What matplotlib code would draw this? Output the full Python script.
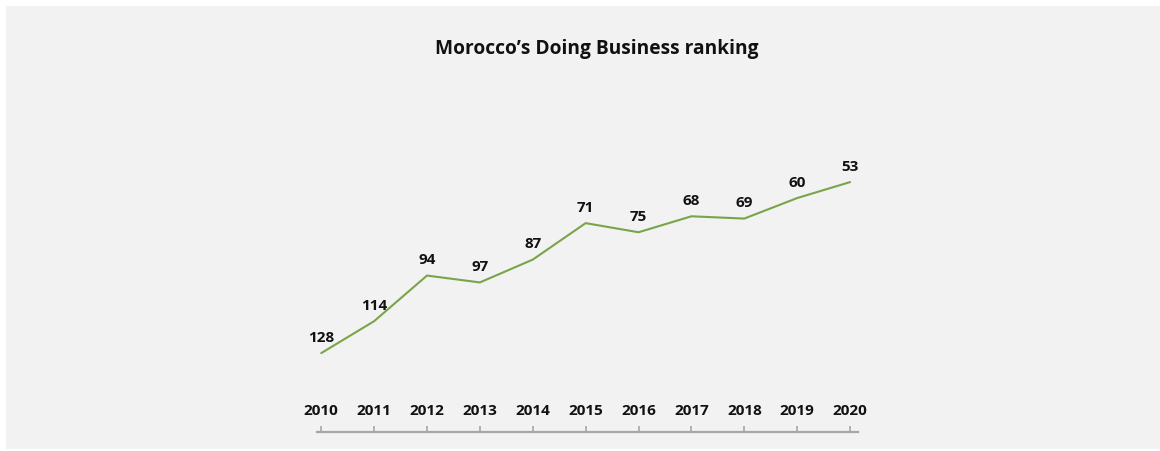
import matplotlib
matplotlib.use("Agg")
import matplotlib.pyplot as plt
from matplotlib.patches import Rectangle
import matplotlib.transforms as mtransforms

# Morocco's Doing Business ranking, 2010-2020
years = [2010, 2011, 2012, 2013, 2014, 2015, 2016, 2017, 2018, 2019, 2020]
ranking = [128, 114, 94, 97, 87, 71, 75, 68, 69, 60, 53]
title = "Morocco\u2019s Doing Business ranking"

plt.rcParams["font.family"] = ["Open Sans", "DejaVu Sans"]

W, H = 1160, 451
fig = plt.figure(figsize=(W / 100, H / 100), dpi=100, facecolor="white")

# light grey panel
fig.patches.append(Rectangle((6 / W, 2 / H), 1154 / W, 443 / H,
                             transform=fig.transFigure, facecolor="#f2f2f2",
                             edgecolor="none", zorder=-5))

# axes placed in pixels
left, right, top, bottom = 317, 858, 100, 432
ax = fig.add_axes([left / W, (H - bottom) / H, (right - left) / W, (bottom - top) / H])
ax.set_zorder(2)
ax.set_facecolor("none")
ax.set_xlim(2009.92, 2020.15)
ax.set_ylim(162.6, 17)

ax.plot(years, ranking, color="#79a548", linewidth=1.5, solid_capstyle="round")

for x, y in zip(years, ranking):
    ax.annotate(str(y), (x, y), xytext=(0, 11), textcoords="offset points",
                ha="center", va="center", fontsize=11, fontweight="bold",
                color="#111111")

# year labels sit above the axis line
trans = mtransforms.blended_transform_factory(ax.transData, ax.transAxes)
for x in years:
    ax.annotate(str(x), (x, 0), xycoords=trans, xytext=(0, 15),
                textcoords="offset points", ha="center", va="center",
                fontsize=11, fontweight="bold", color="#111111")

for s in ["top", "left", "right"]:
    ax.spines[s].set_visible(False)
ax.spines["bottom"].set_color("#a6a6a6")
ax.spines["bottom"].set_linewidth(1.6)
ax.set_xticks(years)
ax.set_xticklabels([])
ax.tick_params(axis="x", direction="in", length=4, width=1.2, color="#a6a6a6")
ax.set_yticks([])

fig.text(597 / W, (H - 49) / H, title, ha="center", va="center",
         fontsize=13.8, fontweight="bold", color="#111111", zorder=3)

fig.savefig("out.png", dpi=100, facecolor="white")
